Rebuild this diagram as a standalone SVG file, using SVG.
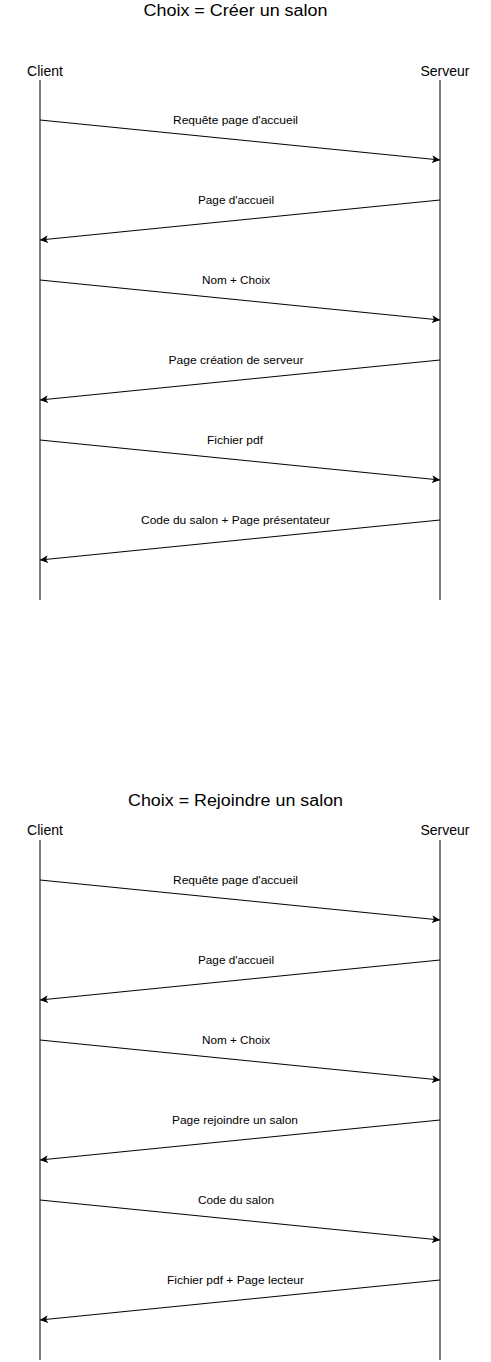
<svg xmlns="http://www.w3.org/2000/svg" width="491" height="1362" viewBox="0 0 491 1362">
<style>
text{font-family:"Liberation Sans",Arial,sans-serif;fill:#000}
.t{font-size:16px;text-anchor:middle}
.h{font-size:14px;text-anchor:middle}
.l{font-size:11px;text-anchor:middle}
.life{stroke:#000;stroke-width:1;fill:none}
.msg{stroke:#000;stroke-width:1;fill:none;marker-end:url(#ah)}
</style>
<defs>
<marker id="ah" markerWidth="10" markerHeight="10" refX="8" refY="4" orient="auto" markerUnits="userSpaceOnUse">
<path d="M0,0 L8,4 L0,8 L2,4 Z" fill="#000"/>
</marker>
</defs>
<rect width="491" height="1362" fill="#fff"/>
<g id="title1"><text class="t" x="235.5" y="16" textLength="184" lengthAdjust="spacingAndGlyphs">Choix = Créer un salon</text></g>
<g id="client1"><text class="h" x="45" y="76">Client</text><line class="life" x1="40" y1="80" x2="40" y2="600"/></g>
<g id="server1"><text class="h" x="445" y="76">Serveur</text><line class="life" x1="440" y1="80" x2="440" y2="600"/></g>
<g id="title2"><text class="t" x="235.5" y="806" textLength="215" lengthAdjust="spacingAndGlyphs">Choix = Rejoindre un salon</text></g>
<g id="client2"><text class="h" x="45" y="835">Client</text><line class="life" x1="40" y1="840" x2="40" y2="1360"/></g>
<g id="server2"><text class="h" x="445" y="835">Serveur</text><line class="life" x1="440" y1="840" x2="440" y2="1360"/></g>
<g id="connectors">
<line class="msg" x1="40" y1="120" x2="440" y2="160"/>
<line class="msg" x1="440" y1="200" x2="40" y2="240"/>
<line class="msg" x1="40" y1="280" x2="440" y2="320"/>
<line class="msg" x1="440" y1="360" x2="40" y2="400"/>
<line class="msg" x1="40" y1="440" x2="440" y2="480"/>
<line class="msg" x1="440" y1="520" x2="40" y2="560"/>
<text class="l" x="235.5" y="124" textLength="125" lengthAdjust="spacingAndGlyphs">Requête page d'accueil</text>
<text class="l" x="236" y="204" textLength="76" lengthAdjust="spacingAndGlyphs">Page d'accueil</text>
<text class="l" x="236" y="284" textLength="68" lengthAdjust="spacingAndGlyphs">Nom + Choix</text>
<text class="l" x="236" y="364" textLength="135" lengthAdjust="spacingAndGlyphs">Page création de serveur</text>
<text class="l" x="235" y="444" textLength="56" lengthAdjust="spacingAndGlyphs">Fichier pdf</text>
<text class="l" x="235.5" y="524" textLength="189" lengthAdjust="spacingAndGlyphs">Code du salon + Page présentateur</text>
<line class="msg" x1="40" y1="880" x2="440" y2="920"/>
<line class="msg" x1="440" y1="960" x2="40" y2="1000"/>
<line class="msg" x1="40" y1="1040" x2="440" y2="1080"/>
<line class="msg" x1="440" y1="1120" x2="40" y2="1160"/>
<line class="msg" x1="40" y1="1200" x2="440" y2="1240"/>
<line class="msg" x1="440" y1="1280" x2="40" y2="1320"/>
<text class="l" x="235.5" y="884" textLength="125" lengthAdjust="spacingAndGlyphs">Requête page d'accueil</text>
<text class="l" x="236" y="964" textLength="76" lengthAdjust="spacingAndGlyphs">Page d'accueil</text>
<text class="l" x="236" y="1044" textLength="68" lengthAdjust="spacingAndGlyphs">Nom + Choix</text>
<text class="l" x="235" y="1124" textLength="126" lengthAdjust="spacingAndGlyphs">Page rejoindre un salon</text>
<text class="l" x="236" y="1204" textLength="76" lengthAdjust="spacingAndGlyphs">Code du salon</text>
<text class="l" x="235.5" y="1284" textLength="137" lengthAdjust="spacingAndGlyphs">Fichier pdf + Page lecteur</text>
</g>
</svg>
